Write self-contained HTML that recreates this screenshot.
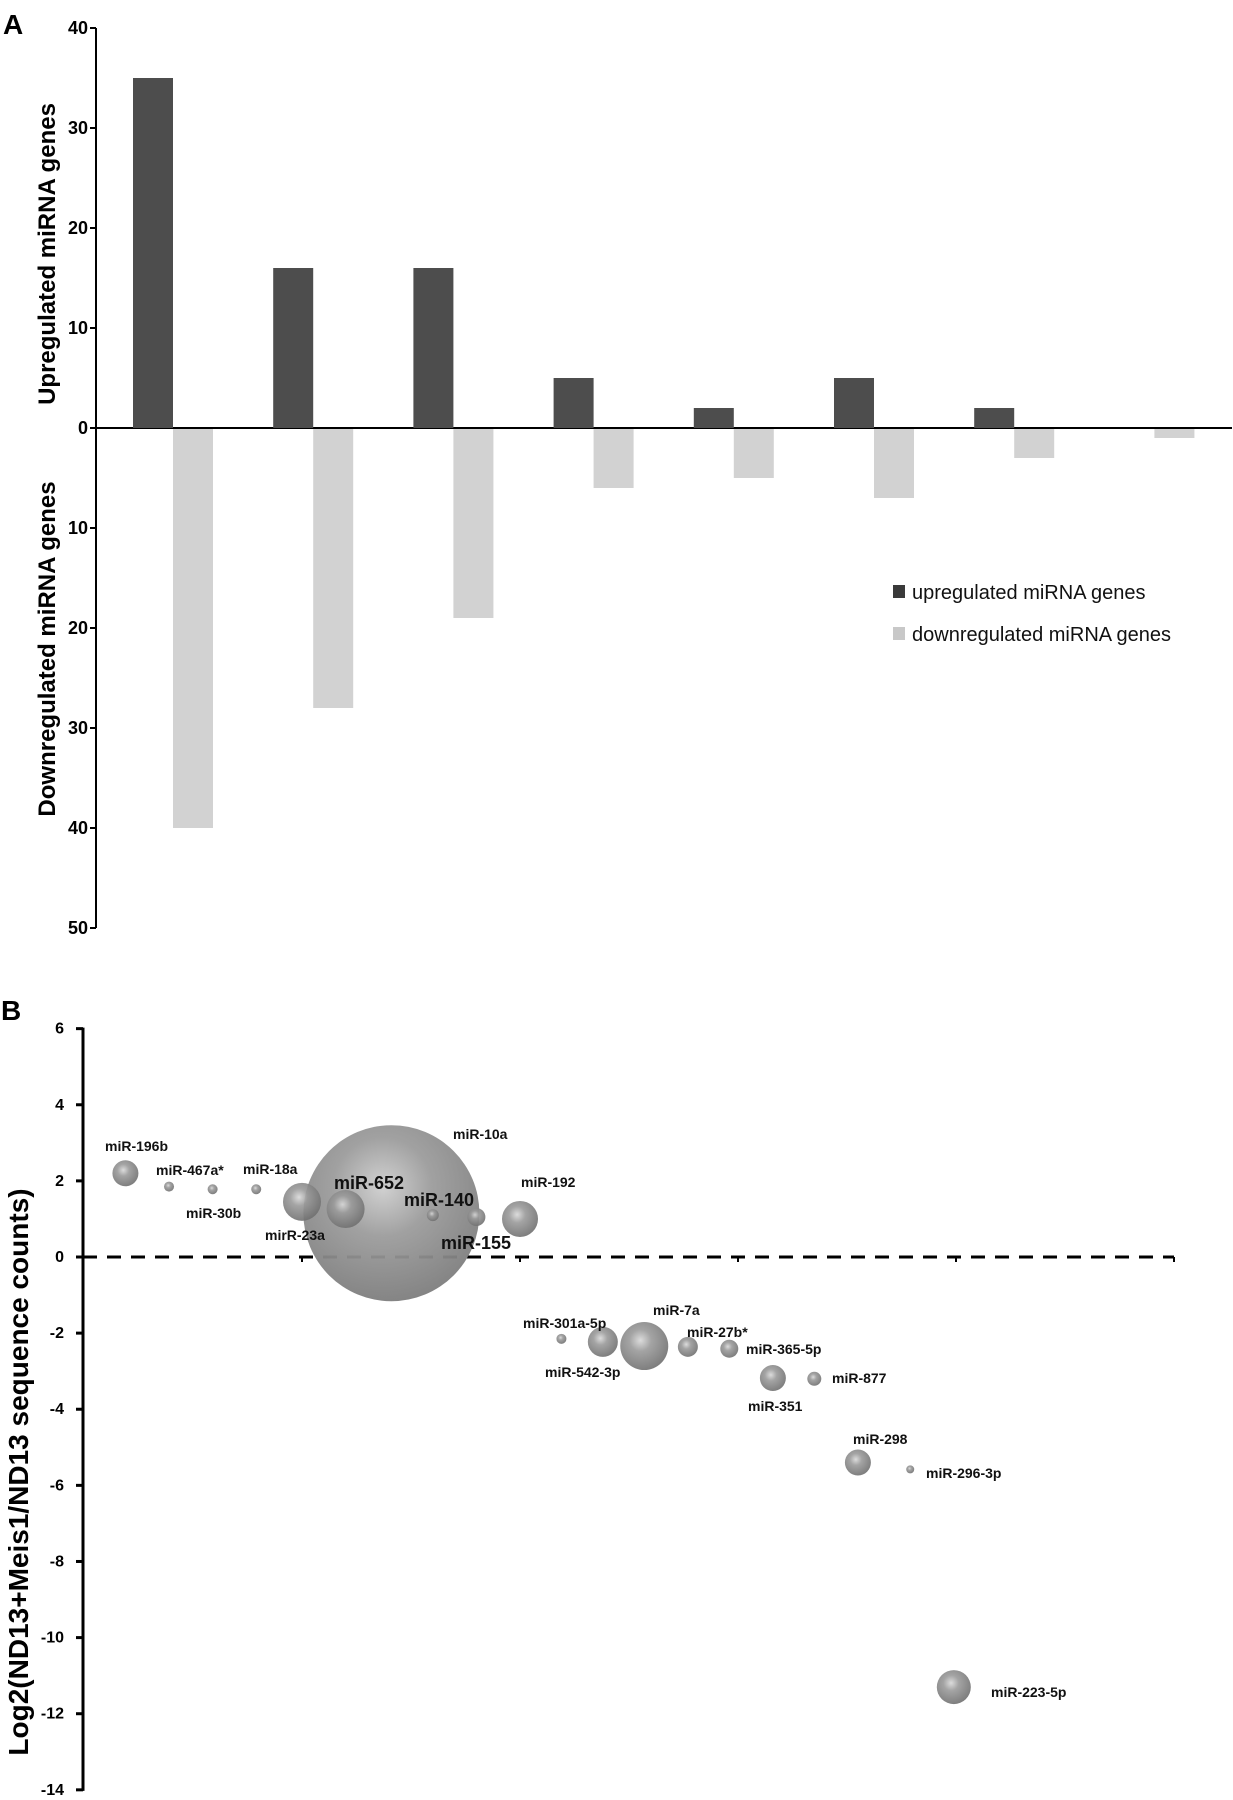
<!DOCTYPE html>
<html><head><meta charset="utf-8"><style>
body{margin:0;background:#fff;}
svg{display:block;font-family:"Liberation Sans",sans-serif;}
</style></head><body>
<svg id="fig" width="1233" height="1800" viewBox="0 0 1233 1800">
<defs>
<radialGradient id="bub" cx="0.42" cy="0.38" r="0.65">
<stop offset="0" stop-color="#d8d8d8"/><stop offset="0.35" stop-color="#9a9a9a"/><stop offset="1" stop-color="#6e6e6e"/>
</radialGradient>
<radialGradient id="bigbub" cx="0.45" cy="0.35" r="0.7">
<stop offset="0" stop-color="#cfcfcf"/><stop offset="0.4" stop-color="#9c9c9c"/><stop offset="1" stop-color="#7a7a7a"/>
</radialGradient>
</defs>
<g id="panelA"></g>
<g id="panelB"></g>
</svg>
<script>
// ---- Panel A data ----
const categoriesA = ["g1","g2","g3","g4","g5","g6","g7","g8"];
const upValues = [35,16,16,5,2,5,2,0];
const downValues = [40,28,19,6,5,7,3,1];
const upTicks = [40,30,20,10,0];
const downTicks = [10,20,30,40,50];

// ---- Panel B data ----
const mirNames = ["miR-196b","miR-467a*","miR-30b","miR-18a","mirR-23a","miR-10a","miR-652","miR-140","miR-155","miR-192","miR-301a-5p","miR-542-3p","miR-7a","miR-27b*","miR-365-5p","miR-351","miR-877","miR-298","miR-296-3p","miR-223-5p"];
const mirX = [0.19,0.39,0.59,0.79,1.0,1.41,1.2,1.6,1.8,2.0,2.19,2.38,2.57,2.77,2.96,3.16,3.35,3.55,3.79,3.99];
const mirY = [2.2,1.85,1.78,1.78,1.45,1.15,1.26,1.1,1.05,1.0,-2.15,-2.23,-2.34,-2.36,-2.41,-3.18,-3.2,-5.4,-5.58,-11.3];
const mirSize = [13,5,5,5,19,88,19,6,9,18,5,15,24,10,9,13,7,13,4,17];
const yTicksB = [6,4,2,0,-2,-4,-6,-8,-10,-12,-14];
const yTickLabelsB = ["6","4","2","0","-2","-4","-6","-8","-10","-12","-14"];
const xTicksB = [1,2,3,4,5];

const NS="http://www.w3.org/2000/svg";
function mk(tag,attrs,parent){const e=document.createElementNS(NS,tag);for(const k in attrs)e.setAttribute(k,attrs[k]);parent.appendChild(e);return e;}

// ===== Panel A =====
const A=document.getElementById('panelA');
const axA=96, zeroA=428, pxA=10.0;
const yA=v=>zeroA - v*pxA;
const gx=i=>133 + i*140.2;
const barW=40;
let t=mk('text',{x:3,y:34,'font-size':28,'font-weight':'bold'},A);t.textContent='A';


let l=mk('line',{x1:axA,y1:yA(40),x2:axA,y2:yA(-50),stroke:'#000','stroke-width':2},A);


l=mk('line',{x1:axA,y1:zeroA,x2:1232,y2:zeroA,stroke:'#000','stroke-width':2},A);


upTicks.forEach(v=>{
  mk('line',{x1:axA-6,y1:yA(v),x2:axA,y2:yA(v),stroke:'#000','stroke-width':2},A);
  const tx=mk('text',{x:88,y:yA(v)+6,'font-size':18,'font-weight':'bold','text-anchor':'end'},A);
  tx.textContent=v;
  
  
});
downTicks.forEach(v=>{
  mk('line',{x1:axA-6,y1:yA(-v),x2:axA,y2:yA(-v),stroke:'#000','stroke-width':2},A);
  const tx=mk('text',{x:88,y:yA(-v)+6,'font-size':18,'font-weight':'bold','text-anchor':'end'},A);
  tx.textContent=v;
  
  
});
categoriesA.forEach((c,i)=>{
  if(upValues[i]>0){
    const r=mk('rect',{x:gx(i),y:yA(upValues[i]),width:barW,height:upValues[i]*pxA,fill:'#4d4d4d'},A);
    
    
  }
  const r2=mk('rect',{x:gx(i)+barW,y:zeroA+1,width:barW,height:downValues[i]*pxA-1,fill:'#d2d2d2'},A);
  
  
});
t=mk('text',{x:0,y:0,'font-size':24,'font-weight':'bold','text-anchor':'middle',transform:'translate(55,254) rotate(-90)'},A);t.textContent='Upregulated miRNA genes';


t=mk('text',{x:0,y:0,'font-size':24,'font-weight':'bold','text-anchor':'middle',transform:'translate(55,649) rotate(-90)'},A);t.textContent='Downregulated miRNA genes';


let lg=mk('g',{},A);


mk('rect',{x:893,y:585,width:12,height:13,fill:'#3a3a3a'},lg);
t=mk('text',{x:912,y:599,'font-size':20,fill:'#111'},lg);t.textContent='upregulated miRNA genes';


mk('rect',{x:893,y:627,width:12,height:13,fill:'#c8c8c8'},lg);
t=mk('text',{x:912,y:641,'font-size':20,fill:'#111'},lg);t.textContent='downregulated miRNA genes';



// ===== Panel B =====
const B=document.getElementById('panelB');
const axB=83, x0B=84, pxXB=218, zeroB=1257, pxYB=38.06;
const xB=v=>x0B+v*pxXB;
const yB=v=>zeroB - v*pxYB;
t=mk('text',{x:1,y:1020,'font-size':28,'font-weight':'bold'},B);t.textContent='B';


l=mk('line',{x1:axB,y1:yB(6)-1,x2:axB,y2:yB(-14)+1,stroke:'#000','stroke-width':3},B);


yTicksB.forEach((v,i)=>{
  mk('line',{x1:axB-7,y1:yB(v),x2:axB,y2:yB(v),stroke:'#000','stroke-width':3},B);
  const tx=mk('text',{x:64,y:yB(v)+5,'font-size':16,'font-weight':'bold','text-anchor':'end'},B);
  tx.textContent=yTickLabelsB[i];
  
  
});
l=mk('line',{x1:axB,y1:zeroB,x2:xB(5),y2:zeroB,stroke:'#000','stroke-width':3,'stroke-dasharray':'14,10'},B);


xTicksB.forEach(v=>{mk('line',{x1:xB(v),y1:zeroB,x2:xB(v),y2:zeroB+5,stroke:'#000','stroke-width':2},B);});
t=mk('text',{x:0,y:0,'font-size':28,'font-weight':'bold','text-anchor':'middle',transform:'translate(28,1472) rotate(-90)'},B);t.textContent='Log2(ND13+Meis1/ND13 sequence counts)';


const order=mirSize.map((s,i)=>i).sort((a,b)=>mirSize[b]-mirSize[a]);
order.forEach(i=>{
  const c=mk('circle',{cx:xB(mirX[i]),cy:yB(mirY[i]),r:mirSize[i],fill:mirSize[i]>50?'url(#bigbub)':'url(#bub)','fill-opacity':mirSize[i]>50?0.95:0.9},B);
  
  
});
// label positions (layout only)
const labelPos=[[105,1151,14],[156,1175,14],[186,1218,14],[243,1174,14],[265,1240,14],[453,1139,14],[334,1189,18],[404,1206,18],[441,1249,18],[521,1187,14],[523,1328,14],[545,1377,14],[653,1315,14],[687,1337,14],[746,1354,14],[748,1411,14],[832,1383,14],[853,1444,14],[926,1478,14],[991,1697,14]];
mirNames.forEach((n,i)=>{
  const p=labelPos[i];
  const tx=mk('text',{x:p[0],y:p[1],'font-size':p[2],'font-weight':'bold',fill:'#111'},B);
  tx.textContent=n;
  
  
});
</script>
</body></html>
